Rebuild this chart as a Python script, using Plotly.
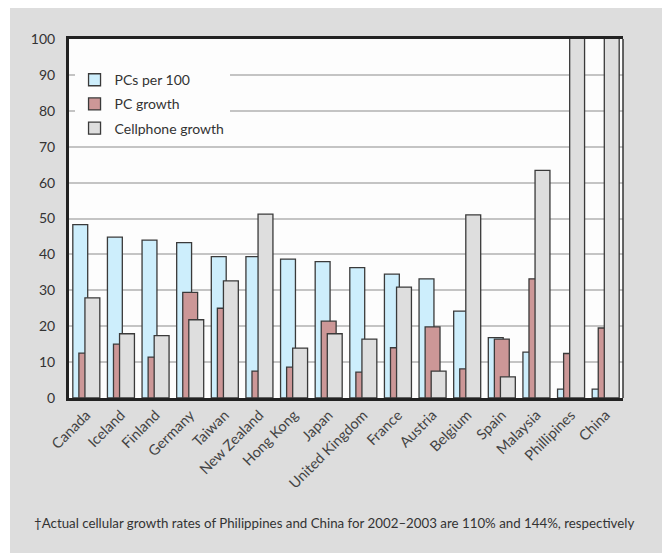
import plotly.graph_objects as go

countries = ["Canada", "Iceland", "Finland", "Germany", "Taiwan", "New Zealand",
             "Hong Kong", "Japan", "United Kingdom", "France", "Austria", "Belgium",
             "Spain", "Malaysia", "Phillipines", "China"]
pcs_per_100 = [48.3, 44.8, 44.0, 43.3, 39.4, 39.4, 38.7, 38.0, 36.3, 34.5, 33.2, 24.2,
               16.8, 12.8, 2.5, 2.5]
pc_growth = [12.5, 15.0, 11.4, 29.4, 25.0, 7.5, 8.6, 21.4, 7.2, 14.0, 19.8, 8.1,
             16.4, 33.2, 12.4, 19.5]
cell_growth = [27.9, 17.9, 17.4, 21.8, 32.6, 51.2, 13.9, 17.9, 16.4, 30.9, 7.5, 51.0,
               5.9, 63.4, 110, 144]
y_ticks = [0, 10, 20, 30, 40, 50, 60, 70, 80, 90, 100]
footnote = "\u2020Actual cellular growth rates of Philippines and China for 2002\u20132003 are 110% and 144%, respectively"

FONT = "Lato, 'Open Sans', sans-serif"
W = 0.43
fig = go.Figure()
series = [
    ("PCs per 100", pcs_per_100, "#cdeefc", -0.39),
    ("PC growth", pc_growth, "#cc9797", -0.215),
    ("Cellphone growth", cell_growth, "#dedede", -0.04),
]
for i, (name, vals, col, off) in enumerate(series):
    fig.add_trace(go.Bar(
        x=countries, y=vals, name=name, width=W, offset=off,
        marker=dict(color=col, line=dict(color="#3a3a3a", width=1.3)),
        legendgroup=f"g{i}",
    ))

# grey outer panel and white plot panel
fig.add_shape(type="rect", xref="paper", yref="paper", x0=-0.1065, x1=1.0704,
              y0=-0.44, y1=1.0864, fillcolor="#dddddd", line=dict(width=0), layer="below")
fig.add_shape(type="rect", xref="paper", yref="paper", x0=0, x1=1, y0=0, y1=1,
              fillcolor="#fdfdfd", line=dict(width=0), layer="below")
# right border (thin)
fig.add_shape(type="line", xref="paper", yref="paper", x0=1, x1=1, y0=0, y1=1,
              line=dict(color="#333333", width=1.5))

fig.add_annotation(text=footnote, xref="paper", yref="paper", x=0.478, y=-0.348,
                   showarrow=False, font=dict(family=FONT, size=13.3, color="#333333"),
                   xanchor="center", yanchor="middle")

fig.update_layout(
    width=665, height=553,
    margin=dict(l=69, r=42, t=39, b=155),
    paper_bgcolor="white",
    plot_bgcolor="rgba(0,0,0,0)",
    barmode="overlay",
    showlegend=True,
    legend=dict(x=0.01, y=0.93, xanchor="left", yanchor="top",
                bgcolor="#fdfdfd", borderwidth=0, traceorder="grouped",
                tracegroupgap=3,
                font=dict(family=FONT, size=14, color="#333333")),
    font=dict(family=FONT, color="#333333"),
)
fig.update_xaxes(
    tickangle=-45, tickfont=dict(family=FONT, size=14.5, color="#444444"),
    showline=True, linecolor="#222222", linewidth=3, mirror=True,
    showgrid=False, ticks="",
)
fig.update_yaxes(
    range=[0, 100], tickvals=y_ticks, tickfont=dict(family=FONT, size=14, color="#333333"),
    showline=True, linecolor="#222222", linewidth=3,
    showgrid=True, gridcolor="#c4c4c4", gridwidth=1.5, zeroline=False,
    ticks="", ticklabelstandoff=8,
)

fig.write_html("out.html")
